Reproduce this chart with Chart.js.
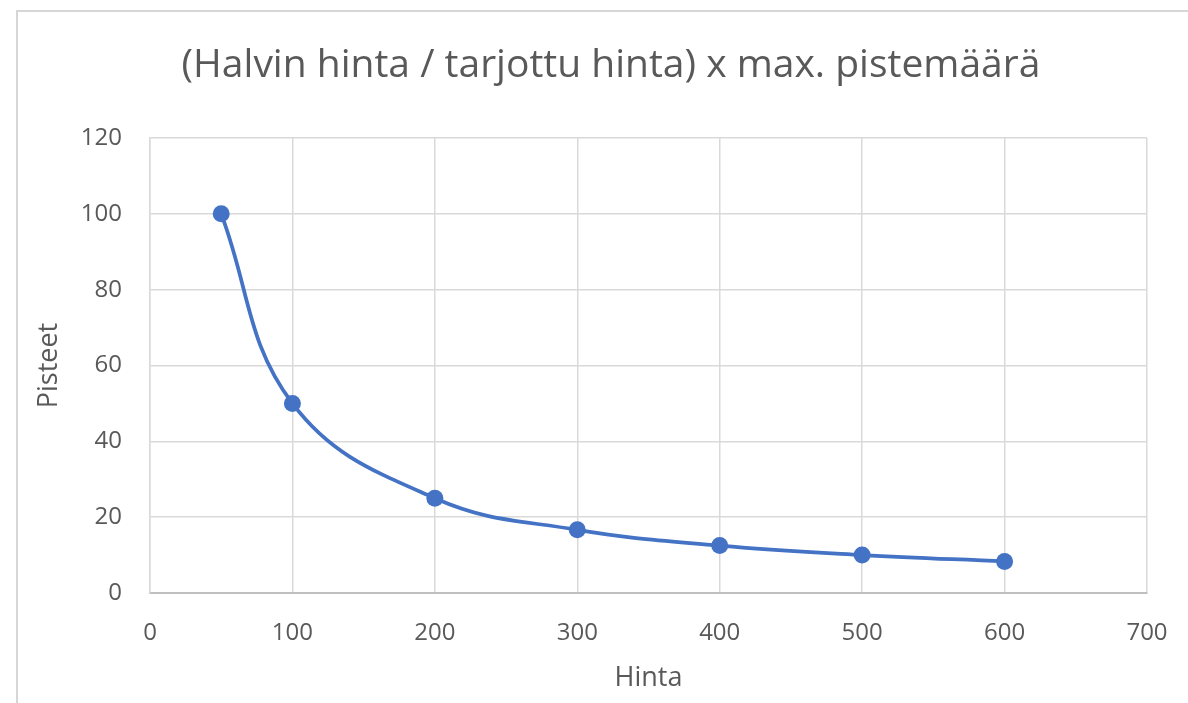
<!DOCTYPE html>
<html>
<head>
<meta charset="utf-8">
<script src="https://cdn.jsdelivr.net/npm/chart.js@4/dist/chart.umd.min.js"></script>
<style>
  html, body { margin: 0; padding: 0; background: #fff; }
  #wrap { width: 1188px; height: 703px; position: relative; }
</style>
</head>
<body>
<div id="wrap"><canvas id="c" width="1188" height="703"></canvas></div>
<script>
const chartTitle = '(Halvin hinta / tarjottu hinta) x max. pistemäärä';
const xAxisTitle = 'Hinta';
const yAxisTitle = 'Pisteet';
const prices = [50, 100, 200, 300, 400, 500, 600];
const points = [100, 50, 25, 16.67, 12.5, 10, 8.33];
const xRange = [0, 700, 100];
const yRange = [0, 120, 20];

const FONT = "'Open Sans', 'Noto Sans', sans-serif";
const TXT = '#595959';
const GRID = '#d9d9d9';
const BLUE = '#4472c4';

const framePlugin = {
  id: 'frame',
  beforeDraw(chart) {
    const ctx = chart.ctx;
    ctx.save();
    ctx.fillStyle = '#fff';
    ctx.fillRect(0, 0, chart.width, chart.height);
    ctx.strokeStyle = '#d6d6d6';
    ctx.lineWidth = 2;
    ctx.beginPath();
    ctx.moveTo(17, 703);
    ctx.lineTo(17, 11);
    ctx.lineTo(1188, 11);
    ctx.stroke();
    ctx.restore();
  },
  afterDraw(chart) {
    const ctx = chart.ctx;
    ctx.save();
    ctx.fillStyle = TXT;
    ctx.font = '39px ' + FONT;
    ctx.textAlign = 'center';
    ctx.textBaseline = 'alphabetic';
    ctx.fillText(chartTitle, 611, 77);
    ctx.restore();
  }
};

function zeroPad(s) { s.paddingLeft = 0; s.paddingRight = 0; s.paddingTop = 0; s.paddingBottom = 0; }

new Chart(document.getElementById('c'), {
  type: 'scatter',
  data: {
    datasets: [{
      data: prices.map((p, i) => ({ x: p, y: points[i] })),
      showLine: true,
      borderColor: BLUE,
      backgroundColor: BLUE,
      borderWidth: 3.75,
      pointRadius: 8.5,
      pointHoverRadius: 8.5,
      pointBorderWidth: 0,
      tension: 0.4
    }]
  },
  options: {
    responsive: false,
    animation: false,
    devicePixelRatio: 1,
    layout: { padding: { left: 0, right: 41, top: 138, bottom: 0 } },
    plugins: {
      legend: { display: false },
      tooltip: { enabled: false },
      title: { display: false }
    },
    scales: {
      x: {
        type: 'linear',
        min: xRange[0], max: xRange[1],
        ticks: { stepSize: xRange[2], color: TXT, padding: 26, font: { family: FONT, size: 24 } },
        grid: { color: GRID, lineWidth: 1.5, drawTicks: false },
        border: { color: '#bfbfbf', width: 2 },
        title: { display: true, text: xAxisTitle, color: TXT, font: { family: FONT, size: 27 }, padding: { top: 0, bottom: 8 } },
        afterFit(s) { s.height = 110; zeroPad(s); }
      },
      y: {
        type: 'linear',
        min: yRange[0], max: yRange[1],
        ticks: { stepSize: yRange[2], color: TXT, padding: 28, font: { family: FONT, size: 24 } },
        grid: { color: GRID, lineWidth: 1.5, drawTicks: false },
        border: { color: GRID, width: 1.5 },
        title: { display: true, text: yAxisTitle, color: TXT, font: { family: FONT, size: 27 }, padding: { top: 33, bottom: 0 } },
        afterFit(s) { s.width = 150; zeroPad(s); }
      }
    }
  },
  plugins: [framePlugin]
});
</script>
</body>
</html>
